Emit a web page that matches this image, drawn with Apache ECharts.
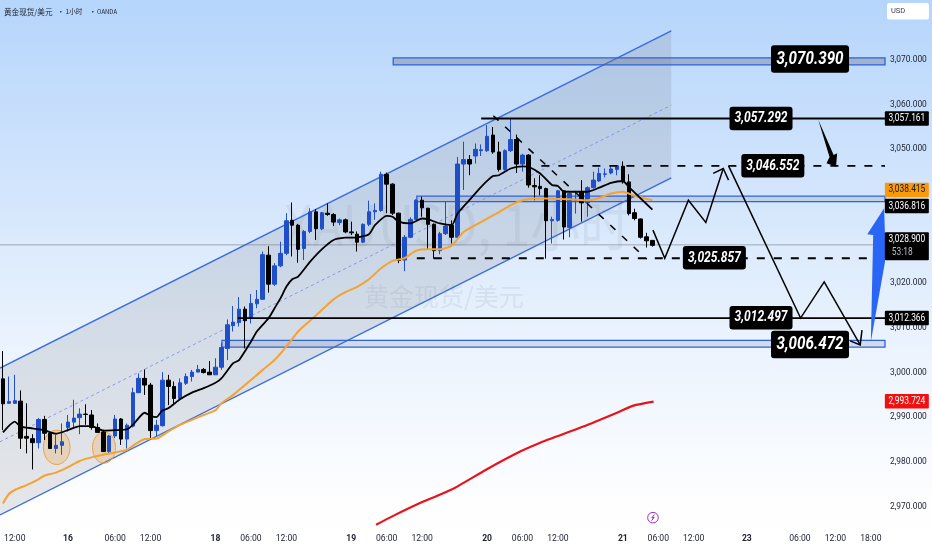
<!DOCTYPE html>
<html>
<head>
<meta charset="utf-8">
<style>html,body{margin:0;padding:0;background:#fff}#c{width:932px;height:550px}</style>
<script src="https://cdn.jsdelivr.net/npm/echarts@6/dist/echarts.min.js"></script>
</head>
<body>
<div id="c"></div>
<script>
const FONT = 'Roboto';
const opens = [2998.6,2993.1,2993.1,2993.6,2985.7,2985.2,2984.3,2989.5,2986.4,2983,2983.7,2987.7,2988.9,2989.9,2990.7,2990.5,2987.7,2986.7,2982.3,2985.8,2989.6,2985.1,2988,2995.5,2998.7,2997.2,2987,2988.1,2998.3,2996.9,2994.2,2997.6,2999.1,3000.1,3000.7,3000.1,2999.5,3001.2,3005.4,3010.5,3011.2,3014.2,3012.2,3015.4,3016.4,3026.3,3019.8,3023.9,3026.7,3034.1,3033,3027.8,3031.6,3036,3032.2,3035.7,3035.4,3033.6,3034.2,3031.5,3031,3029.2,3033.2,3036,3036.3,3044.4,3042.2,3035.7,3025.2,3030.3,3034.3,3038.6,3036.8,3033.2,3027.3,3031.1,3033,3030.3,3046.7,3047.7,3048.5,3049.7,3049.7,3053.2,3049.4,3045.5,3049.7,3052.2,3046.7,3048.7,3041.9,3041.7,3041.2,3034,3034.1,3040.7,3032.5,3038.6,3040.5,3038,3041.4,3042.9,3044.4,3044.7,3045.5,3046.2,3042.7,3035.8,3034.4,3030.4,3029.6];
const closes = [2993,2993.5,2993.7,2985.3,2985.3,2984.3,2989.5,2986.4,2983,2983.7,2984.5,2988.9,2989.8,2990.7,2990.6,2987.7,2986.6,2982.3,2985.8,2989.6,2985.1,2988.2,2995.5,2998.7,2997.2,2987,2988.2,2998.3,2996.9,2994.2,2997.7,2999.1,3000.1,3000.7,3000,2999.5,3001.2,3005.6,3010.7,3011.3,3014.2,3011.6,3015.5,3016.4,3026.4,3019.8,3023.9,3026.7,3034,3033,3027.6,3031.6,3036,3032.2,3035.8,3035.4,3033.7,3034.2,3031.5,3031.3,3029.2,3033.2,3036,3036.3,3044.4,3042.2,3035.7,3025.1,3030.3,3034.3,3038.6,3036.9,3033.2,3027.3,3031.1,3032.8,3030.3,3046.7,3047.7,3046.7,3050,3049.9,3052.9,3049.4,3045.5,3049.7,3052.2,3046.7,3048.7,3042,3041.6,3041.2,3034,3034.3,3040.7,3032.6,3040.1,3038.8,3038,3041.4,3043.1,3044.6,3044.5,3045.6,3046.3,3042.7,3035.6,3034.5,3030.3,3029.5,3028.5];
const lows = [2987.1,2993.1,2993.1,2982.9,2981.9,2978.3,2983,2984.9,2983,2981.9,2981.6,2986.8,2987.7,2986.2,2988.3,2987.2,2986.6,2982.3,2981.9,2985.3,2983.8,2983,2987.7,2995.4,2995,2984.9,2985.7,2987.9,2992.7,2992.7,2993.9,2997.2,2998,3000.1,2999.8,2999.5,2999.5,3000.6,3002.8,3009.2,3010.3,3005.4,3011,3014.4,3016.3,3017.9,3019.4,3023.6,3026.3,3026,3024.6,3025.2,3031.2,3029.7,3031.9,3035.1,3032.8,3033,3031.2,3030.8,3027.1,3029,3032.8,3034.2,3036,3035.7,3035.3,3024.5,3022.7,3030.1,3034.2,3034.9,3027.5,3025.5,3026.5,3030.8,3028.9,3030,3040.9,3044.2,3046.8,3048.5,3049.4,3049,3045,3045.2,3049.4,3044.7,3045,3041.4,3038.6,3039.7,3025.5,3028.9,3033.8,3029.8,3030.3,3035.6,3033.8,3034.9,3041.2,3042.7,3043.7,3044.4,3044.2,3042.3,3035.2,3034.1,3030,3028,3028.2];
const highs = [3004.8,2999.1,2999.5,2996,2993.1,2986.2,2989.8,2990.3,2986.6,2986,2988.6,2990.5,2993.9,2992,2992.9,2991.6,2988.6,2987.2,2986,2990.5,2989.8,2988.6,2996.6,2999.8,3000.7,2997.7,2989.4,3000.1,2999.5,2998,2998.7,2999.8,3000.6,3001.7,3001,3002.6,3003.2,3006.6,3011.9,3014.9,3016.9,3014.8,3017.6,3018.5,3027.1,3028.3,3024.5,3029.3,3035.7,3038.1,3033.3,3031.9,3036.8,3036.6,3036,3037.9,3035.7,3034.5,3034.5,3033.8,3031.6,3033.4,3038.5,3037.9,3045,3044.8,3042.4,3035.8,3030.8,3034.8,3038.8,3039.4,3036.9,3033.4,3031.5,3038.2,3034.1,3048.3,3051.7,3048.7,3051.3,3051.1,3055.4,3055,3051.7,3050,3056.9,3053.3,3049,3048.9,3043.5,3044.2,3041.4,3034.9,3040.9,3040.9,3040.3,3040.7,3043.1,3041.7,3045,3045.9,3045.7,3046.4,3046.4,3047.3,3044.4,3036.7,3034.5,3031.3,3029.7];

const xTickIdx = [2,11,19,25,36,42,48,59,65,71,82,88,94,105,111,117,126,135,141,147];
const xTickLabels = ['12:00','16','06:00','12:00','18','06:00','12:00','19','06:00','12:00','20','06:00','12:00','21','06:00','12:00','23','06:00','12:00','18:00'];
const yTicks = [2970,2980,2990,3000,3010,3020,3030,3040,3050,3060,3070];

const emaFast = [[0,2986.6],[2,2989],[3,2987.9],[5,2987.5],[7,2987.1],[9,2986.3],[11,2987.1],[13,2988],[15,2988],[17,2987],[19,2987.1],[21,2987.3],[22,2988.3],[24,2991],[25,2990.3],[26,2990],[27,2991.5],[28,2992],[30,2994],[32,2995.5],[34,2996.5],[36,2997.7],[37,2998.7],[39,3002.1],[40,3002.8],[42,3006.9],[43,3009.2],[45,3012.2],[46,3014.4],[47,3016.6],[48,3019.2],[49,3020.9],[50,3021.5],[52,3024.8],[54,3027.6],[56,3029.7],[58,3030.2],[60,3030.3],[62,3031],[63,3033],[65,3035.1],[66,3034.9],[67,3033.8],[69,3033.4],[71,3034.5],[72,3034.3],[74,3033.4],[76,3033],[77,3035.6],[79,3038.6],[81,3041.6],[83,3044],[84,3044.2],[86,3045.7],[88,3046.2],[89,3046.1],[91,3044.6],[93,3042],[94,3041.8],[95,3040.5],[97,3040.5],[99,3040.5],[101,3041.4],[103,3042.5],[105,3042.9],[106,3041.6],[108,3039],[110,3036.5]];
const emaMid = [[0,2970.7],[1,2972.8],[2,2973.7],[4,2974.8],[6,2976.1],[7,2976.9],[9,2977.6],[11,2978.8],[13,2980.2],[15,2981],[17,2981.6],[19,2982.1],[21,2982.7],[22,2983.6],[24,2985.1],[26,2985.2],[28,2986.8],[30,2988.3],[32,2989.4],[34,2990.5],[36,2991.6],[37,2993.1],[39,2995],[41,2997.2],[44,3000.6],[46,3002.8],[48,3005.8],[50,3009.2],[52,3011.6],[54,3014],[56,3016.4],[58,3018],[60,3019.2],[62,3020.9],[64,3023.3],[66,3025],[68,3025.6],[70,3027.3],[72,3027.6],[74,3027.6],[76,3028.4],[78,3031.5],[80,3033],[82,3034.5],[84,3035.9],[86,3037.5],[88,3038.6],[90,3039],[92,3039],[96,3038.8],[99,3038.6],[101,3039.1],[103,3040.1],[105,3040.5],[107,3039.6],[110,3038.6]];
const emaSlow = [[63.2,2965.9],[66.1,2967.9],[71.2,2971.1],[76,2973.8],[81.9,2978.3],[87.6,2982.3],[91,2984.3],[98.3,2987.9],[104,2991],[106.8,2992.6],[110.2,2993.5]];

const channelUpper = [[-0.5,3001.0],[113.2,3076.5]];
const channelMid = [[-0.5,2984.5],[113.2,3059.9]];
const channelLower = [[-0.5,2968.1],[113.2,3043.6]];

const zoneBoxes = [
  {from:66.1, to:149.4, top:3070.5, bottom:3068.9, fill:'rgba(120,123,134,0.42)'},
  {from:70.1, to:149.4, top:3039.5, bottom:3038.3, fill:'rgba(120,123,134,0.2)'},
  {from:37.1, to:149.4, top:3007.2, bottom:3005.7, fill:'rgba(120,123,134,0.2)'}
];
const levelSolid = [[[81,3056.9],[149.4,3056.9]],[[39.8,3012.2],[149.4,3012.2]]];
const levelDashed = [[[91.2,3046.3],[149.4,3046.3]],[[70.1,3025.6],[149.4,3025.6]]];
const priceLine = [[-0.5,3028.6],[149.4,3028.6]];
const diagDashed = [[83.07,3057.5],[109.05,3025.4]];
const pathUp = [[110.1,3031.9],[112.1,3025.6],[116.1,3038.6],[119.05,3033.6],[122,3045.7]];
const pathUpHead = [[120.3,3044.6],[122,3045.7],[122.9,3043.1]];
const pathDown = [[122.9,3046.3],[135.1,3012.2],[139.1,3020.3],[145.2,3006.2]];
const pathDownHead = [[143.5,3007.1],[145.2,3006.2],[145.5,3009.5]];
const blackArrow = [[138.1,3056.6],[140,3048.3],[139.5,3046.9],[141.1,3046.1],[141.3,3049.1],[140.7,3048.7]];
const blueArrow = [[147,3006.9],[147.4,3030.8],[146.4,3031],[149.25,3036.8],[149.4,3030.8],[149.4,3024.8]];
const rings = [[6.85,2987.1,11.36,2979.4],[15.17,2986.7,19.07,2979.7]];
const boltAt = [110.1,2967.5];

const bigTags = [[136.7,3070.2,'3,070.390'],[136.7,3006.3,'3,006.472']];
const midTags = [[128.4,3056.9,'3,057.292'],[130.4,3046.3,'3,046.552'],[120.5,3025.7,'3,025.857'],[128.4,3012.3,'3,012.497']];
const axisTags = [
  [153.1,3056.9,'3,057.161','#000000','#ffffff'],
  [153.1,3040.9,'3,038.415','#f89a0c','#1a1a1a'],
  [153.1,3037.3,'3,036.816','#000000','#ffffff'],
  [153.1,3012.2,'3,012.366','#000000','#ffffff'],
  [153.1,2993.6,'2,993.724','#f01010','#ffffff']
];
const clockTag = [153.1,3028.3,'3,028.900','53:18'];

const candleData = opens.map((o,i)=>[i,o,closes[i],lows[i],highs[i]]);
const fmtTick = v => {
  const k = xTickIdx.indexOf(v);
  if (k<0) return '';
  const t = xTickLabels[k];
  return t.indexOf(':')>=0 ? '{n|'+t+'}' : '{b|'+t+'}';
};
const fmtY = v => Number(v).toLocaleString('en-US',{minimumFractionDigits:3,maximumFractionDigits:3});

function annotLayer(z, build){
  return {type:'custom',coordinateSystem:'cartesian2d',xAxisIndex:0,yAxisIndex:0,z,clip:false,silent:true,
    data:[[0,3000]],encode:{x:0,y:1},renderItem:(p,api)=>({type:'group',children:build(api)})};
}
const line = (api,pts,stroke,w,dash)=>({type:'polyline',shape:{points:pts.map(q=>api.coord(q))},style:{stroke,lineWidth:w,fill:null,lineDash:dash||null}});
const poly = (api,pts,fill)=>({type:'polygon',shape:{points:pts.map(q=>api.coord(q))},style:{fill,stroke:null}});
function tag(api,t,w,h,r,size,bg,fg,italic,sx){
  const c=api.coord([t[0],t[1]]);
  return {type:'group',x:c[0],y:c[1],children:[
    {type:'rect',shape:{x:-w/2,y:-h/2,width:w,height:h,r},style:{fill:bg}},
    {type:'text',scaleX:sx,style:{x:0,y:0,text:t[2],fontFamily:FONT,fontSize:size,fontWeight:italic?'bold':'normal',fontStyle:italic?'italic':'normal',fill:fg,align:'center',verticalAlign:'middle'}}
  ]};
}
const headStyle = {fontFamily:'"Noto Sans CJK SC"',fontWeight:'normal',color:'#1c2030'};

const chart = echarts.init(document.getElementById('c'),null,{renderer:'canvas'});
chart.setOption({
  animation:false,
  backgroundColor:new echarts.graphic.LinearGradient(0,0,0,1,[
    {offset:0,color:'#b5d5fb'},{offset:0.3,color:'#cfe3fc'},{offset:0.6,color:'#e9f2fd'},{offset:0.92,color:'#fefeff'},{offset:1,color:'#ffffff'}]),
  grid:{left:0,right:47,top:0,height:527,containLabel:false,outerBoundsMode:'none'},
  xAxis:{type:'value',min:-0.5,max:149.4,splitLine:{show:false},axisLine:{show:false},axisTick:{show:false},
    axisLabel:{customValues:xTickIdx,formatter:fmtTick,margin:7,hideOverlap:false,showMinLabel:true,showMaxLabel:true,
      rich:{n:{fontFamily:FONT,fontSize:8.6,color:'#1c2030'},b:{fontFamily:FONT,fontSize:8.6,fontWeight:'bold',color:'#1c2030'}}}},
  yAxis:{type:'value',position:'right',min:2965.41,max:3083.44,scale:true,splitLine:{show:false},axisLine:{show:false},axisTick:{show:false},
    axisLabel:{customValues:yTicks,formatter:fmtY,margin:5,fontFamily:FONT,fontSize:8.4,color:'#1c2030',align:'left',hideOverlap:false}},
  title:[
    {text:'黄金现货/美元',left:4,top:8,padding:0,textStyle:{...headStyle,fontSize:7.6}},
    {text:'•',left:57,top:8,padding:0,textStyle:{...headStyle,fontSize:7.6}},
    {text:'1小时',left:65.5,top:8,padding:0,textStyle:{...headStyle,fontSize:6.6}},
    {text:'•',left:89,top:8,padding:0,textStyle:{...headStyle,fontSize:7.6}},
    {text:'OANDA',left:97,top:8.5,padding:0,textStyle:{...headStyle,fontSize:6}}
  ],
  graphic:[
    {type:'text',z:1,silent:true,left:284,top:197,scaleX:0.89,style:{text:'XAUUSD, 1小时',fontFamily:'"Noto Sans CJK SC"',fontSize:56,fill:'rgba(110,115,130,0.10)'}},
    {type:'text',z:1,silent:true,left:364,top:284,style:{text:'黄金现货/美元',fontFamily:'"Noto Sans CJK SC"',fontSize:25,fill:'rgba(110,115,130,0.12)'}},
    {type:'rect',z:1,silent:true,left:887,top:3,shape:{width:42,height:16.5,r:2},style:{fill:'#fff'}},
    {type:'text',z:2,silent:true,left:891,top:7,style:{text:'USD',fontFamily:FONT,fontSize:7.5,fill:'#3a3f4c'}}
  ],
  series:[
    annotLayer(1,api=>[
      poly(api,[channelUpper[0],channelUpper[1],channelLower[1],channelLower[0]],'rgba(115,120,135,0.18)'),
      line(api,channelUpper,'#3a6cdc',1.4),
      line(api,channelLower,'#3a6cdc',1.4),
      line(api,channelMid,'#7f8fe6',0.9,[3,3]),
      line(api,priceLine,'rgba(110,112,120,0.55)',1)
    ]),
    annotLayer(2,api=>zoneBoxes.map(b=>({type:'polygon',shape:{points:[[b.from,b.top],[b.to,b.top],[b.to,b.bottom],[b.from,b.bottom]].map(q=>api.coord(q))},
      style:{fill:b.fill,stroke:'#2f62e0',lineWidth:1.3}}))),
    annotLayer(3,api=>rings.map(r=>{
      const a=api.coord([r[0],r[1]]),b=api.coord([r[2],r[3]]);
      return {type:'ellipse',shape:{cx:(a[0]+b[0])/2,cy:(a[1]+b[1])/2,rx:(b[0]-a[0])/2,ry:(b[1]-a[1])/2},style:{fill:'rgba(245,150,30,0.22)',stroke:'#f0a040',lineWidth:1}};
    })),
    {type:'candlestick',z:4,barWidth:4,silent:true,clip:false,data:candleData,
      itemStyle:{color:'#1f4fc8',color0:'#000000',borderColor:'#1f4fc8',borderColor0:'#000000',borderWidth:1}},
    {type:'line',z:5,data:emaMid,symbol:'none',smooth:0.2,silent:true,lineStyle:{color:'#f5a22e',width:2}},
    {type:'line',z:6,data:emaFast,symbol:'none',smooth:0.2,silent:true,lineStyle:{color:'#000000',width:1.8}},
    {type:'line',z:6,data:emaSlow,symbol:'none',smooth:0.2,silent:true,lineStyle:{color:'#e8131a',width:2.2},clip:false},
    annotLayer(7,api=>[
      ...levelSolid.map(l=>line(api,l,'#000',1.8)),
      ...levelDashed.map(l=>line(api,l,'#000',1.8,[8,9])),
      line(api,diagDashed,'#000',1.5,[7,9]),
      line(api,pathUp,'#000',1.5),line(api,pathUpHead,'#000',1.5),
      line(api,pathDown,'#000',1.5),line(api,pathDownHead,'#000',1.5),
      poly(api,blackArrow,'#000'),
      poly(api,blueArrow,'#2a66f5'),
      (()=>{const c=api.coord(boltAt);return {type:'circle',shape:{cx:c[0],cy:c[1],r:5.3},style:{fill:'rgba(255,255,255,0.6)',stroke:'#9a2fc0',lineWidth:1}};})(),
      (()=>{const c=api.coord(boltAt);return {type:'polyline',shape:{points:[[c[0]+1.4,c[1]-3],[c[0]-1.2,c[1]+0.3],[c[0]+1.2,c[1]-0.3],[c[0]-1.4,c[1]+3]]},style:{stroke:'#9a2fc0',lineWidth:1,fill:null}};})()
    ]),
    annotLayer(8,api=>[
      ...bigTags.map(t=>tag(api,t,78,27.5,3,19,'#000','#fff',true,0.8)),
      ...midTags.map(t=>tag(api,t,63,23.5,3,15,'#000','#fff',true,0.8)),
      ...axisTags.map(t=>tag(api,t,44,14.5,1,10,t[3],t[4],false,0.84)),
      (()=>{const c=api.coord([clockTag[0],clockTag[1]]);return {type:'group',x:c[0],y:c[1],children:[
        {type:'rect',shape:{x:-22,y:-14,width:44,height:28,r:1},style:{fill:'#000'}},
        {type:'text',scaleX:0.84,style:{x:0,y:-6.5,text:clockTag[2],fontFamily:FONT,fontSize:10,fill:'#fff',align:'center',verticalAlign:'middle'}},
        {type:'text',scaleX:0.84,style:{x:-18,y:6.5,text:clockTag[3],fontFamily:FONT,fontSize:10,fill:'#b8bcc4',align:'left',verticalAlign:'middle'}}
      ]};})()
    ])
  ]
});
</script>
</body>
</html>
